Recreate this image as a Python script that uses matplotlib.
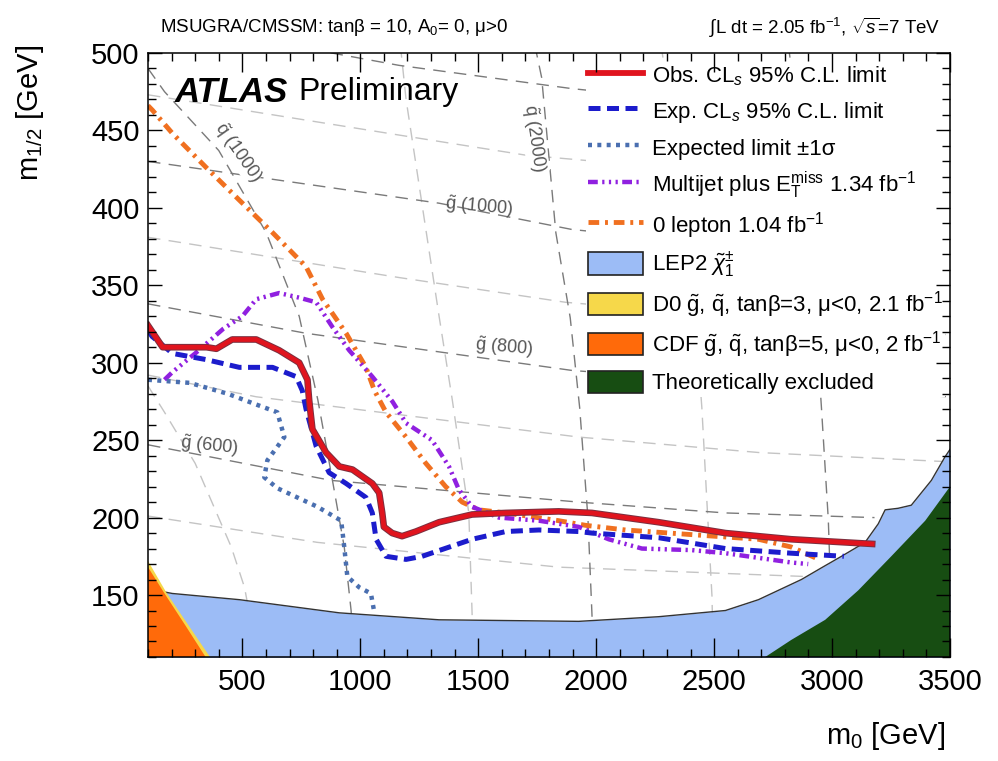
import matplotlib
matplotlib.use('Agg')
import matplotlib.pyplot as plt
import matplotlib.patches as mpatches
import matplotlib.patheffects as pe
from matplotlib.lines import Line2D
from matplotlib.legend_handler import HandlerPatch

plt.rcParams['font.family'] = ['Liberation Sans', 'DejaVu Sans']
plt.rcParams['mathtext.fontset'] = 'custom'
plt.rcParams['mathtext.rm'] = 'Liberation Sans'
plt.rcParams['mathtext.it'] = 'Liberation Sans:italic'
plt.rcParams['mathtext.bf'] = 'Liberation Sans:bold'

# --- limit contours (m0, m1/2) in GeV ---
obs_m0 = [100, 162, 210, 348, 390, 457, 559, 656, 741, 776, 783, 797, 855, 911, 967, 1051, 1080,
          1093, 1100, 1135, 1177, 1236, 1334, 1474, 1617, 1841, 1982, 2265, 2548, 2827, 3170]
obs_m12 = [324, 310, 310, 310, 309, 315, 315, 308, 300, 289, 276, 257, 242, 233, 231, 222, 216,
           203, 194, 190, 188, 191, 197, 202, 203, 204, 203, 197, 190, 186, 183]

exp_m0 = [100, 117, 204, 347, 487, 628, 728, 754, 770, 813, 868, 940, 1024, 1051, 1067, 1109, 1194,
          1262, 1474, 1617, 1757, 1926, 1982, 2265, 2548, 2827, 3050]
exp_m12 = [321, 317, 306, 302, 297, 297, 291, 282, 270, 246, 229, 222, 213, 203, 186, 175, 173,
           175, 186, 191, 192, 191, 190, 187, 180, 177, 175]

sig_m0 = [100, 276, 437, 559, 648, 678, 640, 606, 593, 648, 818, 919, 932, 945, 995, 1045, 1058]
sig_m12 = [289, 287, 280, 273, 268, 252, 244, 237, 226, 219, 207, 198, 181, 162, 155, 151, 140]

mj_m0 = [170, 204, 300, 420, 500, 559, 656, 741, 813, 882, 953, 1051, 1136, 1194, 1304, 1376, 1418,
         1474, 1588, 1757, 1926, 2053, 2194, 2405, 2548, 2688, 2827, 2899]
mj_m12 = [289, 294, 306, 322, 330, 341, 345, 342, 339, 323, 308, 291, 275, 261, 250, 233, 218,
          207, 200, 198, 194, 186, 180, 179, 177, 174, 171, 170]

zl_m0 = [100, 119, 204, 347, 487, 628, 770, 840, 940, 1024, 1060, 1109, 1194, 1278, 1362, 1432,
         1503, 1617, 1841, 1955, 2124, 2405, 2688, 2827, 2930]
zl_m12 = [466, 463, 448, 426, 405, 384, 362, 341, 319, 297, 282, 268, 252, 235, 220, 210,
          205, 203, 198, 195, 192, 189, 186, 181, 174]

# --- excluded regions ---
lep_m0 = [100, 203, 487, 911, 1334, 1926, 2265, 2548, 2688, 2870, 2960, 3040, 3140, 3196, 3225,
          3280, 3336, 3421, 3478, 3500]
lep_m12 = [154, 151, 147, 138.5, 134, 133, 136, 140, 147, 160, 168, 175, 184, 196, 205,
           206, 208, 224, 239, 244]

d0_m0 = [100, 100, 180, 385, 100]
d0_m12 = [105, 172, 151, 105, 105]

cdf_m0 = [100, 100, 170, 260, 365, 100]
cdf_m12 = [105, 168, 151, 130, 105, 105]

th_m0 = [2680, 2717, 2827, 2971, 3111, 3251, 3395, 3500, 3500]
th_m12 = [105, 110, 121, 134, 153, 175, 198, 220, 105]

# --- gluino / squark iso-mass lines ---
iso_g500 = [(100, 201), (818, 184), (1841, 168), (2880, 162)]
iso_g600 = [(100, 247), (877, 224), (1926, 210), (2548, 203), (3180, 200)]
iso_g700 = [(100, 292), (559, 278), (1926, 252), (2690, 242), (3500, 236)]
iso_g800 = [(100, 338), (770, 319), (1898, 295), (3226, 280), (3500, 278)]
iso_g900 = [(100, 381), (1164, 355), (1871, 339), (3500, 318)]
iso_g1000 = [(100, 430), (1334, 403), (1898, 386), (3225, 366), (3500, 363)]
iso_g1100 = [(100, 473), (1164, 447), (1702, 434), (3500, 410)]
iso_g1200 = [(700, 505), (1164, 492), (1896, 477), (3293, 455), (3500, 452)]
iso_q1000 = [(100, 490), (170, 475), (400, 437), (601, 384), (741, 330), (820, 276), (875, 230),
             (932, 181), (961, 140), (975, 105)]
iso_q1500 = [(1170, 505), (1194, 470), (1334, 330), (1390, 276), (1460, 203), (1474, 138), (1478, 105)]
iso_q2000 = [(1740, 505), (1769, 484), (1829, 384), (1890, 329), (1930, 271), (1965, 200), (1982, 138),
             (1990, 105)]
iso_q2500 = [(2275, 505), (2340, 440), (2400, 370), (2448, 271), (2491, 149), (2497, 105)]
iso_q3000 = [(2815, 505), (2900, 400), (2955, 271), (2984, 199), (2995, 150)]
iso_faint = [(100, 285), (170, 268), (300, 235), (453, 181), (509, 155), (540, 130)]

dark_iso = [iso_g600, iso_g800, iso_g1000, iso_g1200, iso_q1000, iso_q2000, iso_q3000]
light_iso = [iso_g500, iso_g700, iso_g900, iso_g1100, iso_q1500, iso_q2500, iso_faint]

fig = plt.figure(figsize=(9.98, 7.61), dpi=100)
ax = fig.add_axes([0.1483, 0.1367, 0.8036, 0.7937])

for pts in light_iso:
    ax.plot([p[0] for p in pts], [p[1] for p in pts], color='#c4c4c4', lw=1.0,
            dashes=(9, 6), zorder=1)
for pts in dark_iso:
    ax.plot([p[0] for p in pts], [p[1] for p in pts], color='#7a7a7a', lw=1.0,
            dashes=(9, 6), zorder=1)

iso_kw = dict(color='#555555', fontsize=13, zorder=1.5, ha='center', va='center')
ax.text(360, 246, r'$\tilde{\mathrm{g}}$ (600)', rotation=-6, **iso_kw)
ax.text(1609, 310, r'$\tilde{\mathrm{g}}$ (800)', rotation=-5, **iso_kw)
ax.text(1503, 401, r'$\tilde{\mathrm{g}}$ (1000)', rotation=-5, **iso_kw)
ax.text(480, 436, r'$\tilde{\mathrm{q}}$ (1000)', rotation=-55,
        bbox=dict(fc='white', ec='none', pad=0), **iso_kw)
ax.text(1737, 445, r'$\tilde{\mathrm{q}}$ (2000)', rotation=-82,
        bbox=dict(fc='white', ec='none', pad=0), **iso_kw)

# excluded regions
ax.fill_between(lep_m0, 100, lep_m12, color='#9cbcf6', lw=0, zorder=2)
ax.plot(lep_m0, lep_m12, color='#333333', lw=1.0, zorder=3)
ax.fill(d0_m0, d0_m12, color='#f6d84a', lw=0, zorder=3)
ax.fill(cdf_m0, cdf_m12, color='#ff6a0a', lw=0, zorder=3.5)
ax.fill(th_m0, th_m12, color='#174d12', lw=0, zorder=3.5)

# limit contours
ax.plot(zl_m0, zl_m12, color='#f07020', lw=3.5, dashes=(2.2, 1.2, 0.6, 1.2), zorder=5)
ax.plot(mj_m0, mj_m12, color='#9020e0', lw=3.2, dashes=(2.2, 1, 0.5, 1, 0.5, 1, 0.5, 1), zorder=5)
ax.plot(sig_m0, sig_m12, color='#4a6fb0', lw=3.2, dashes=(0.9, 1.2), zorder=5)
ax.plot(exp_m0, exp_m12, color='#1c1ccc', lw=3.6, dashes=(2.4, 1.3), zorder=6)
ax.plot(obs_m0, obs_m12, color='#e0141e', lw=3.4, zorder=7,
        path_effects=[pe.Stroke(linewidth=4.8, foreground='#7a3040'), pe.Normal()])

ax.set_xlim(100, 3500)
ax.set_ylim(110, 500)
ax.set_xticks(range(500, 3501, 500))
ax.set_xticks(range(100, 3501, 100), minor=True)
ax.set_yticks(range(150, 501, 50))
ax.set_yticks(range(110, 501, 10), minor=True)
ax.tick_params(which='both', direction='in', top=True, right=True, labelsize=21, width=1)
ax.tick_params(axis='x', which='major', length=14, pad=8)
ax.tick_params(axis='x', which='minor', length=6)
ax.tick_params(axis='y', which='major', length=10, pad=6)
ax.tick_params(axis='y', which='minor', length=6)
# ticks and frame stay above the filled regions
ax.xaxis.set_zorder(10)
ax.yaxis.set_zorder(10)
for s in ax.spines.values():
    s.set_linewidth(1.1)
    s.set_zorder(10)

ax.set_xlabel(r'm$_0$ [GeV]', fontsize=21, loc='right')
ax.xaxis.set_label_coords(0.994, -0.105)
ax.set_ylabel(r'm$_{1/2}$ [GeV]', fontsize=21, loc='top')
ax.yaxis.set_label_coords(-0.127, 1.013)

fig.text(160 / 998, 1 - 28 / 761, r'MSUGRA/CMSSM: tanβ = 10, A$_0$= 0, μ>0',
         fontsize=13.5, va='center', ha='left')
fig.text(940 / 998, 1 - 28 / 761, r'$\int$L dt = 2.05 fb$^{-1}$, $\sqrt{s}$=7 TeV',
         fontsize=13.5, va='center', ha='right')

ax.text(0.033, 0.935, 'ATLAS', transform=ax.transAxes, fontsize=25, fontweight='bold',
        fontstyle='italic', va='center', ha='left', zorder=8)
ax.text(0.188, 0.935, 'Preliminary', transform=ax.transAxes, fontsize=23,
        va='center', ha='left', zorder=8)


def box(legend, orig_handle, xdescent, ydescent, width, height, fontsize):
    h = 0.85 * height
    return mpatches.Rectangle((-xdescent, -ydescent + (height - h) / 2), width, h)


handles = [
    Line2D([], [], color='#e0141e', lw=4.2),
    Line2D([], [], color='#1c1ccc', lw=3.6, dashes=(2.4, 1.3)),
    Line2D([], [], color='#4a6fb0', lw=3.2, dashes=(0.9, 1.2)),
    Line2D([], [], color='#9020e0', lw=3.2, dashes=(2.2, 1, 0.5, 1, 0.5, 1, 0.5, 1)),
    Line2D([], [], color='#f07020', lw=3.5, dashes=(2.2, 1.2, 0.6, 1.2)),
    mpatches.Patch(facecolor='#9cbcf6', edgecolor='#222222', lw=1.2),
    mpatches.Patch(facecolor='#f6d84a', edgecolor='#222222', lw=1.2),
    mpatches.Patch(facecolor='#ff6a0a', edgecolor='#222222', lw=1.2),
    mpatches.Patch(facecolor='#174d12', edgecolor='#222222', lw=1.2),
]
labels = [
    r'Obs. CL$_s$ 95% C.L. limit',
    r'Exp. CL$_s$ 95% C.L. limit',
    'Expected limit ±1σ',
    r'Multijet plus E$_\mathrm{T}^\mathrm{miss}$ 1.34 fb$^{-1}$',
    r'0 lepton 1.04 fb$^{-1}$',
    r'LEP2 $\tilde{\chi}_1^{\pm}$',
    r'D0 $\tilde{\mathrm{g}}$, $\tilde{\mathrm{q}}$, tanβ=3, μ<0, 2.1 fb$^{-1}$',
    r'CDF $\tilde{\mathrm{g}}$, $\tilde{\mathrm{q}}$, tanβ=5, μ<0, 2 fb$^{-1}$',
    'Theoretically excluded',
]
leg = ax.legend(handles, labels, loc='upper left', bbox_to_anchor=(586 / 998, 1 - 60 / 761),
                bbox_transform=fig.transFigure, fontsize=16, frameon=True, facecolor='white',
                edgecolor='none', framealpha=1, fancybox=False, borderpad=0.1, borderaxespad=0,
                handlelength=2.48, handleheight=1.45, handletextpad=0.4, labelspacing=0.41,
                handler_map={mpatches.Patch: HandlerPatch(patch_func=box)})
leg.set_zorder(9)

fig.savefig('out.png', dpi=100)
